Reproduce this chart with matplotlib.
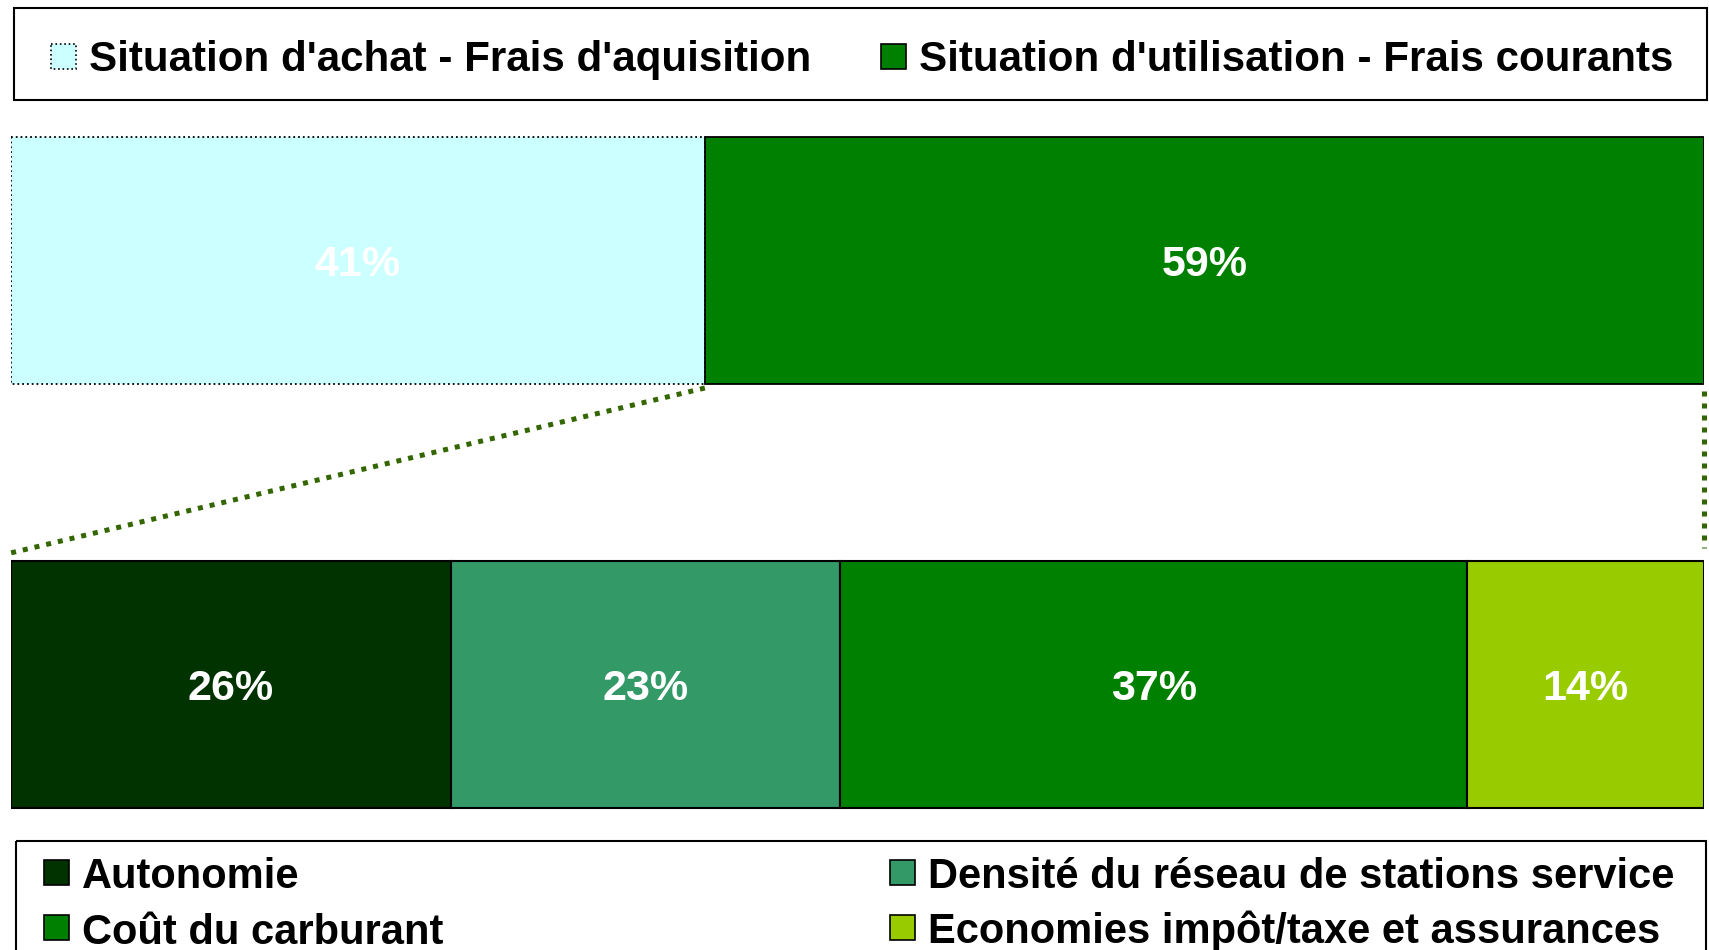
import numpy as np
import matplotlib.pyplot as plt
from matplotlib.patches import Rectangle

# top bar: purchase vs. usage
top_labels = ["Situation d'achat - Frais d'aquisition", "Situation d'utilisation - Frais courants"]
top_values = [41, 59]
top_colors = ['#CCFFFF', '#008000']

# bottom bar: breakdown of the usage part
sub_labels = ['Autonomie', 'Densité du réseau de stations service',
              'Coût du carburant', 'Economies impôt/taxe et assurances']
sub_values = [26, 23, 37, 14]
sub_colors = ['#003300', '#339966', '#008000', '#99CC00']

W, H = 1709, 950
FONT = ['Liberation Sans', 'DejaVu Sans']

fig = plt.figure(figsize=(W / 100, H / 100), dpi=100)

# bars in percent along x, pixel rows along y
ax = fig.add_axes([10.5 / W, 0, (1704 - 10.5) / W, 1])
ax.set_xlim(0, 100)
ax.set_ylim(H, 0)
ax.axis('off')

top_y, sub_y, bar_h = 260.5, 684.5, 247

lefts = np.concatenate([[0], np.cumsum(top_values)[:-1]])
for i, (v, l, c) in enumerate(zip(top_values, lefts, top_colors)):
    ls = ':' if i == 0 else '-'
    ax.barh(top_y, v, left=l, height=bar_h, color=c, edgecolor='black',
            linewidth=1.3, linestyle=ls, zorder=2 + i)
    ax.text(l + v / 2, top_y + 15.5, '%d%%' % v, color='white', fontsize=31,
            fontweight='bold', family=FONT, ha='center', va='baseline', zorder=5)

lefts = np.concatenate([[0], np.cumsum(sub_values)[:-1]])
for v, l, c in zip(sub_values, lefts, sub_colors):
    ax.barh(sub_y, v, left=l, height=bar_h, color=c, edgecolor='black',
            linewidth=1.5, zorder=2)
    ax.text(l + v / 2, sub_y + 15.5, '%d%%' % v, color='white', fontsize=31,
            fontweight='bold', family=FONT, ha='center', va='baseline', zorder=5)

# dotted connectors from the usage segment down to the breakdown bar
conn = dict(color='#336600', linewidth=3.6, linestyle=(0, (1, 1.4)),
            dash_capstyle='butt', zorder=1, clip_on=False)
ax.plot([top_values[0], 0], [388, 553], **conn)
ax.plot([100, 100], [391, 548], **conn)

# legends drawn in figure pixels
lay = fig.add_axes([0, 0, 1, 1], zorder=10)
lay.set_xlim(0, W)
lay.set_ylim(H, 0)
lay.axis('off')
lay.patch.set_alpha(0)

lay.add_patch(Rectangle((14, 8), 1693, 92, fill=False, edgecolor='black', linewidth=1.5))
top_pos = [(51, 44), (881, 44)]
for i, (lab, c, (px, py)) in enumerate(zip(top_labels, top_colors, top_pos)):
    ls = ':' if i == 0 else '-'
    lay.add_patch(Rectangle((px, py), 25, 25, facecolor=c, edgecolor='black',
                            linewidth=1.2, linestyle=ls))
    lay.text(px + 38, 71, lab, fontsize=30.3, fontweight='bold', family=FONT,
             ha='left', va='baseline')

lay.add_patch(Rectangle((16, 841), 1690, 140, fill=False, edgecolor='black',
                        linewidth=1.5, clip_on=False))
sub_pos = [(44, 860), (890, 860), (44, 915), (890, 915)]
for lab, c, (px, py) in zip(sub_labels, sub_colors, sub_pos):
    lay.add_patch(Rectangle((px, py), 25, 25, facecolor=c, edgecolor='black',
                            linewidth=1.2))
    lay.text(px + 38, py + 28.5, lab, fontsize=30, fontweight='bold', family=FONT,
             ha='left', va='baseline')

fig.savefig('out.png', dpi=100)
